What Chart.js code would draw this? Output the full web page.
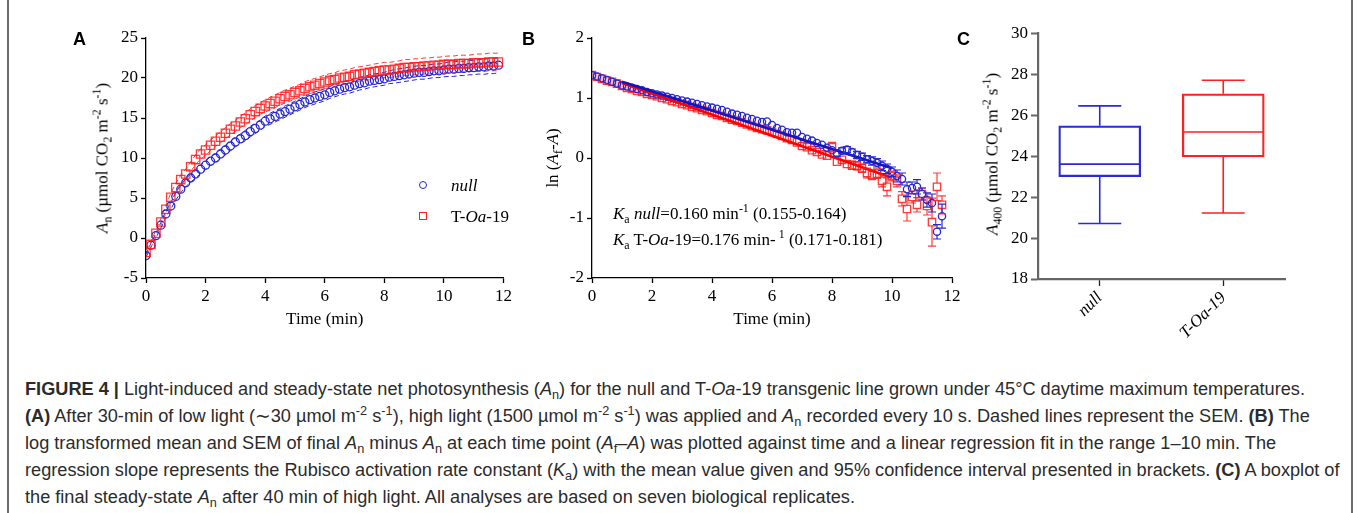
<!DOCTYPE html>
<html>
<head>
<meta charset="utf-8">
<script src="https://cdn.jsdelivr.net/npm/chart.js@4.4.0/dist/chart.umd.min.js"></script>
<style>
  body { margin: 0; width: 1357px; height: 513px; background: #fff; position: relative; overflow: hidden; }
  canvas { position: absolute; }
  .txt { position: absolute; font-family: 'Liberation Serif', 'Times New Roman', serif; font-size: 17px; line-height: 17px; color: #000; white-space: nowrap; }
  .ytit { transform: translate(-50%, -50%) rotate(-90deg); }
  .sub { font-size: 0.7em; position: relative; top: 0.3em; }
  .sup { font-size: 0.7em; position: relative; top: -0.55em; }
  .letra { position: absolute; font-family: 'Liberation Sans', Arial, sans-serif; font-weight: bold; font-size: 18px; line-height: 18px; }
  .moldura { position: absolute; top: 0; width: 1.5px; height: 513px; background: #6b6b6b; }
  #legenda div { position: absolute; box-sizing: border-box; }
  #caption { position: absolute; left: 25px; top: 377px; font-family: 'Liberation Sans', Arial, sans-serif; font-size: 17.5px; line-height: 25px; color: #2b2b2b; transform-origin: 0 0; }
  #caption div { white-space: nowrap; }
  #caption span.l { display: inline-block; }
</style>
</head>
<body>
<div class="moldura" style="left:7px"></div>
<div class="moldura" style="left:1351px"></div>

<canvas id="graficoA" width="455" height="320" style="left:60px;top:20px"></canvas>
<canvas id="graficoB" width="455" height="320" style="left:515px;top:20px"></canvas>
<canvas id="graficoC" width="380" height="330" style="left:970px;top:20px"></canvas>

<div class="letra" style="left:73px;top:30px">A</div>
<div class="letra" style="left:522px;top:30px">B</div>
<div class="letra" style="left:957px;top:30px">C</div>

<div class="txt ytit" style="left:103px;top:158px"><i>A</i><span class="sub">n</span> (µmol CO<span class="sub">2</span> m<span class="sup">-2</span> s<span class="sup">-1</span>)</div>
<div class="txt ytit" style="left:553px;top:158px">ln (<i>A</i><span class="sub">f</span>-<i>A</i>)</div>
<div class="txt ytit" style="left:993px;top:154px"><i>A</i><span class="sub">400</span> (µmol CO<span class="sub">2</span> m<span class="sup">-2</span> s<span class="sup">-1</span>)</div>

<div id="legenda">
  <div style="left:419px;top:181px;width:8px;height:8px;border:1.3px solid #2727d2;border-radius:50%"></div>
  <div style="left:419px;top:212px;width:8px;height:8px;border:1.3px solid #ff1f1f"></div>
</div>
<div class="txt" style="left:451px;top:176.5px"><i>null</i></div>
<div class="txt" style="left:451px;top:207.5px">T-<i>Oa</i>-19</div>

<div class="txt" style="left:613px;top:205px"><i>K</i><span class="sub">a</span> <i>null</i>=0.160 min<span class="sup">-1</span> (0.155-0.164)</div>
<div class="txt" style="left:613px;top:231px"><i>K</i><span class="sub">a</span> T-<i>Oa</i>-19=0.176 min-<span class="sup"> 1</span> (0.171-0.181)</div>

<div id="caption">
  <div><span class="l" id="linha1"><b>FIGURE 4 |</b> Light-induced and steady-state net photosynthesis (<i>A</i><span class="sub">n</span>) for the null and T-<i>Oa</i>-19 transgenic line grown under 45°C daytime maximum temperatures.</span></div>
  <div><span class="l"><b>(A)</b> After 30-min of low light (∼30 µmol m<span class="sup">-2</span> s<span class="sup">-1</span>), high light (1500 µmol m<span class="sup">-2</span> s<span class="sup">-1</span>) was applied and <i>A</i><span class="sub">n</span> recorded every 10 s. Dashed lines represent the SEM. <b>(B)</b> The</span></div>
  <div><span class="l">log transformed mean and SEM of final <i>A</i><span class="sub">n</span> minus <i>A</i><span class="sub">n</span> at each time point (<i>A</i><span class="sub">f</span>–<i>A</i>) was plotted against time and a linear regression fit in the range 1–10 min. The</span></div>
  <div><span class="l">regression slope represents the Rubisco activation rate constant (<i>K</i><span class="sub">a</span>) with the mean value given and 95% confidence interval presented in brackets. <b>(C)</b> A boxplot of</span></div>
  <div><span class="l">the final steady-state <i>A</i><span class="sub">n</span> after 40 min of high light. All analyses are based on seven biological replicates.</span></div>
</div>

<script>
// painel A: An medido a cada 10 s depois da luz alta
const passoSeg = 10;
const anNull = [-2.2, -0.9, 0.3, 1.6, 3.0, 4.0, 5.2, 6.1, 6.9, 7.5, 8.0, 8.6,
  9.1, 9.6, 10.0, 10.5, 11.0, 11.5, 12.0, 12.4, 12.8, 13.3, 13.7, 14.1,
  14.6, 14.9, 15.2, 15.5, 15.8, 16.1, 16.4, 16.7, 17.0, 17.3, 17.5, 17.7,
  17.9, 18.2, 18.4, 18.6, 18.8, 18.9, 19.1, 19.3, 19.4, 19.6, 19.7, 19.8,
  19.9, 20.1, 20.2, 20.3, 20.4, 20.5, 20.6, 20.7, 20.7, 20.8, 20.9, 20.9,
  21.0, 21.1, 21.1, 21.2, 21.2, 21.3, 21.3, 21.4, 21.4, 21.5, 21.5, 21.6];
const anOa = [-1.8, -0.8, 0.6, 2.0, 3.6, 5.1, 6.3, 7.3, 8.0, 8.9, 9.8, 10.5,
  11.0, 11.6, 12.1, 12.6, 13.1, 13.6, 14.0, 14.5, 14.9, 15.4, 15.8, 16.2,
  16.5, 16.8, 17.1, 17.4, 17.7, 17.9, 18.2, 18.4, 18.7, 18.9, 19.1, 19.3,
  19.5, 19.7, 19.8, 20.0, 20.1, 20.2, 20.4, 20.5, 20.6, 20.7, 20.8, 20.9,
  21.0, 21.0, 21.1, 21.2, 21.3, 21.3, 21.4, 21.4, 21.5, 21.5, 21.6, 21.6,
  21.7, 21.7, 21.7, 21.8, 21.8, 21.8, 21.9, 21.9, 21.9, 22.0, 22.0, 22.0];
const semNull = [0.2, 0.25, 0.3, 0.35, 0.4, 0.4, 0.45, 0.45, 0.5, 0.5, 0.5, 0.55,
  0.55, 0.55, 0.55, 0.6, 0.6, 0.6, 0.6, 0.6, 0.65, 0.65, 0.65, 0.65,
  0.65, 0.7, 0.7, 0.7, 0.7, 0.7, 0.7, 0.7, 0.7, 0.75, 0.75, 0.75,
  0.75, 0.75, 0.75, 0.75, 0.8, 0.8, 0.8, 0.8, 0.8, 0.8, 0.8, 0.8,
  0.8, 0.8, 0.85, 0.85, 0.85, 0.85, 0.85, 0.85, 0.85, 0.85, 0.85, 0.85,
  0.85, 0.9, 0.9, 0.9, 0.9, 0.9, 0.9, 0.9, 0.95, 0.95, 0.95, 0.95];
const semOa = [0.3, 0.35, 0.4, 0.45, 0.5, 0.5, 0.55, 0.55, 0.6, 0.6, 0.6, 0.65,
  0.65, 0.65, 0.65, 0.7, 0.7, 0.7, 0.7, 0.7, 0.75, 0.75, 0.75, 0.75,
  0.75, 0.8, 0.8, 0.8, 0.8, 0.8, 0.8, 0.8, 0.85, 0.85, 0.85, 0.85,
  0.85, 0.85, 0.85, 0.9, 0.9, 0.9, 0.9, 0.9, 0.9, 0.9, 0.95, 0.95,
  0.95, 0.95, 0.95, 0.95, 1.0, 1.0, 1.0, 1.0, 1.0, 1.0, 1.0, 1.0,
  1.0, 1.05, 1.05, 1.05, 1.05, 1.05, 1.05, 1.1, 1.1, 1.1, 1.1, 1.1];

// painel B: ln(Af - A) com erro padrao
const lnNull = [1.38, 1.36, 1.33, 1.30, 1.27, 1.24, 1.21, 1.19, 1.17, 1.15, 1.13, 1.10,
  1.08, 1.06, 1.04, 1.02, 1.00, 0.98, 0.96, 0.94, 0.92, 0.90, 0.88, 0.86,
  0.84, 0.82, 0.80, 0.77, 0.74, 0.72, 0.70, 0.67, 0.65, 0.62, 0.60, 0.61,
  0.55, 0.50, 0.47, 0.43, 0.42, 0.42, 0.35, 0.32, 0.29, 0.25, 0.22, 0.17,
  0.13, 0.08, 0.12, 0.14, 0.10, 0.05, 0.02, -0.02, -0.05, -0.08, -0.13, -0.18,
  -0.23, -0.30, -0.35, -0.52, -0.50, -0.48, -0.60, -0.70, -0.75, -1.23, -0.97];
const lnOa = [1.38, 1.35, 1.32, 1.29, 1.27, 1.24, 1.20, 1.17, 1.15, 1.12, 1.10, 1.07,
  1.05, 1.03, 1.00, 0.98, 0.95, 0.93, 0.90, 0.88, 0.85, 0.83, 0.80, 0.78,
  0.75, 0.72, 0.70, 0.67, 0.64, 0.62, 0.59, 0.56, 0.53, 0.50, 0.48, 0.46,
  0.43, 0.40, 0.37, 0.33, 0.30, 0.26, 0.20, 0.18, 0.13, 0.10, 0.06, 0.04,
  0.18, -0.06, -0.03, -0.10, -0.12, -0.13, -0.17, -0.25, -0.28, -0.26, -0.38, -0.48,
  -0.30, -0.38, -0.68, -0.85, -0.65, -0.78, -0.60, -0.80, -1.07, -0.48, -0.78];
const errNull = [0.02, 0.02, 0.02, 0.02, 0.02, 0.02, 0.02, 0.02, 0.02, 0.02, 0.02, 0.02,
  0.02, 0.02, 0.02, 0.02, 0.02, 0.02, 0.02, 0.02, 0.02, 0.02, 0.02, 0.02,
  0.02, 0.02, 0.02, 0.02, 0.02, 0.02, 0.03, 0.03, 0.03, 0.03, 0.03, 0.03,
  0.03, 0.03, 0.03, 0.03, 0.03, 0.03, 0.03, 0.03, 0.03, 0.03, 0.03, 0.03,
  0.04, 0.05, 0.05, 0.05, 0.05, 0.06, 0.06, 0.06, 0.07, 0.07, 0.08, 0.08,
  0.08, 0.10, 0.10, 0.12, 0.10, 0.12, 0.10, 0.12, 0.15, 0.12, 0.20];
const errOa = [0.02, 0.02, 0.02, 0.02, 0.02, 0.02, 0.02, 0.02, 0.02, 0.02, 0.02, 0.02,
  0.02, 0.02, 0.02, 0.02, 0.02, 0.02, 0.02, 0.02, 0.02, 0.02, 0.02, 0.02,
  0.03, 0.03, 0.03, 0.03, 0.03, 0.03, 0.03, 0.03, 0.03, 0.03, 0.03, 0.03,
  0.03, 0.03, 0.03, 0.03, 0.03, 0.03, 0.04, 0.04, 0.05, 0.05, 0.05, 0.05,
  0.08, 0.06, 0.06, 0.06, 0.07, 0.07, 0.07, 0.08, 0.08, 0.08, 0.10, 0.15,
  0.08, 0.10, 0.12, 0.20, 0.10, 0.12, 0.10, 0.15, 0.40, 0.23, 0.15];
// regressao linear entre 1 e 10 min
const fitTempo = [1, 10];
const fitNull = [1.27, -0.17];
const fitOa = [1.25, -0.33];

// painel C: boxplot de A400
const grupos = ['null', 'T-Oa-19'];
const boxMin = [20.71, 21.22];
const boxQ1 = [23.00, 23.96];
const boxMed = [23.61, 25.18];
const boxQ3 = [25.48, 27.04];
const boxMax = [26.45, 27.70];

const azul = '#2727d2';
const vermelho = 'rgba(255, 25, 25, 0.85)';
const coresC = ['#2a2ad6', '#ff2020'];

Chart.defaults.font.family = "'Liberation Serif', 'Times New Roman', serif";
Chart.defaults.font.size = 17;
Chart.defaults.color = '#000';

// tempo em minutos de cada leitura
function pontos(valores) {
  return valores.map((v, i) => ({ x: i * passoSeg / 60, y: v }));
}

function eixo(min, max, passo, tamanho, extra) {
  return Object.assign({
    type: 'linear', min: min, max: max,
    ticks: { stepSize: passo, padding: 3, color: '#000', font: { size: 17 } },
    grid: { drawOnChartArea: false, color: '#000', tickLength: 5, tickWidth: 1.3 },
    border: { color: '#000', width: 1.3 },
    afterFit: tamanho
  }, extra || {});
}

const tituloTempo = { display: true, text: 'Time (min)', font: { size: 17 }, padding: { top: 0, bottom: 10 } };
const semLegenda = { legend: { display: false }, tooltip: { enabled: false } };

// grafico A
new Chart(document.getElementById('graficoA'), {
  type: 'scatter',
  data: {
    datasets: [
      { data: pontos(anOa), pointStyle: 'rect', pointRadius: 5.9, borderColor: vermelho, backgroundColor: 'rgba(0,0,0,0)', borderWidth: 1.3, order: 1 },
      { data: pontos(anNull), pointStyle: 'circle', pointRadius: 4, borderColor: azul, backgroundColor: 'rgba(0,0,0,0)', borderWidth: 1.3, order: 2 },
      { data: pontos(anOa.map((v, i) => v + semOa[i])), showLine: true, pointRadius: 0, borderColor: vermelho, borderWidth: 1, borderDash: [5, 3], order: 3 },
      { data: pontos(anOa.map((v, i) => v - semOa[i])), showLine: true, pointRadius: 0, borderColor: vermelho, borderWidth: 1, borderDash: [5, 3], order: 3 },
      { data: pontos(anNull.map((v, i) => v + semNull[i])), showLine: true, pointRadius: 0, borderColor: azul, borderWidth: 1, borderDash: [5, 3], order: 4 },
      { data: pontos(anNull.map((v, i) => v - semNull[i])), showLine: true, pointRadius: 0, borderColor: azul, borderWidth: 1, borderDash: [5, 3], order: 4 }
    ]
  },
  options: {
    responsive: false,
    animation: false,
    events: [],
    layout: { padding: { top: 18, right: 9, left: 0, bottom: 0 } },
    plugins: semLegenda,
    scales: {
      x: eixo(0, 12, 2, s => { s.height = 62; }, { title: tituloTempo }),
      y: eixo(-5, 25, 5, s => { s.width = 86; })
    }
  }
});

// barras de erro do grafico B, so fora do simbolo
const barrasErro = {
  id: 'barrasErro',
  afterDatasetsDraw(chart) {
    const ctx = chart.ctx;
    const y = chart.scales.y;
    chart.data.datasets.forEach((ds, d) => {
      if (!ds.erros) return;
      chart.getDatasetMeta(d).data.forEach((p, i) => {
        const e = ds.erros[i];
        const topo = y.getPixelForValue(ds.data[i].y + e);
        const base = y.getPixelForValue(ds.data[i].y - e);
        const r = ds.pointRadius * 0.75;
        if (p.y - topo <= r) return;
        ctx.save();
        ctx.strokeStyle = ds.borderColor;
        ctx.lineWidth = 1.2;
        ctx.beginPath();
        ctx.moveTo(p.x, p.y - r); ctx.lineTo(p.x, topo);
        ctx.moveTo(p.x, p.y + r); ctx.lineTo(p.x, base);
        ctx.moveTo(p.x - 4, topo); ctx.lineTo(p.x + 4, topo);
        ctx.moveTo(p.x - 4, base); ctx.lineTo(p.x + 4, base);
        ctx.stroke();
        ctx.restore();
      });
    });
  }
};

// grafico B
new Chart(document.getElementById('graficoB'), {
  type: 'scatter',
  data: {
    datasets: [
      { data: pontos(lnOa), erros: errOa, pointStyle: 'rect', pointRadius: 5.2, borderColor: vermelho, backgroundColor: 'rgba(0,0,0,0)', borderWidth: 1.3, order: 2 },
      { data: pontos(lnNull), erros: errNull, pointStyle: 'circle', pointRadius: 3.6, borderColor: azul, backgroundColor: 'rgba(0,0,0,0)', borderWidth: 1.3, order: 1 },
      { data: fitTempo.map((t, i) => ({ x: t, y: fitNull[i] })), showLine: true, pointRadius: 0, borderColor: '#1515c0', borderWidth: 2.5, order: 0 },
      { data: fitTempo.map((t, i) => ({ x: t, y: fitOa[i] })), showLine: true, pointRadius: 0, borderColor: '#ff0000', borderWidth: 2.5, order: 0 }
    ]
  },
  plugins: [barrasErro],
  options: {
    responsive: false,
    animation: false,
    events: [],
    layout: { padding: { top: 18, right: 18, left: 0, bottom: 0 } },
    plugins: semLegenda,
    scales: {
      x: eixo(0, 12, 2, s => { s.height = 62; }, { title: tituloTempo }),
      y: eixo(-2, 2, 1, s => { s.width = 77; })
    }
  }
});

// bigodes e mediana do boxplot
const bigodes = {
  id: 'bigodes',
  afterDatasetsDraw(chart) {
    const ctx = chart.ctx;
    const y = chart.scales.y;
    chart.getDatasetMeta(0).data.forEach((barra, i) => {
      const x = barra.x;
      const meia = barra.width / 2 - 0.75;
      ctx.save();
      ctx.strokeStyle = coresC[i];
      ctx.lineWidth = 1.6;
      ctx.beginPath();
      ctx.moveTo(x - meia, y.getPixelForValue(boxMed[i]));
      ctx.lineTo(x + meia, y.getPixelForValue(boxMed[i]));
      ctx.moveTo(x, y.getPixelForValue(boxQ3[i]));
      ctx.lineTo(x, y.getPixelForValue(boxMax[i]));
      ctx.moveTo(x, y.getPixelForValue(boxQ1[i]));
      ctx.lineTo(x, y.getPixelForValue(boxMin[i]));
      ctx.moveTo(x - 21.5, y.getPixelForValue(boxMax[i]));
      ctx.lineTo(x + 21.5, y.getPixelForValue(boxMax[i]));
      ctx.moveTo(x - 21.5, y.getPixelForValue(boxMin[i]));
      ctx.lineTo(x + 21.5, y.getPixelForValue(boxMin[i]));
      ctx.stroke();
      ctx.restore();
    });
  }
};

// grafico C
new Chart(document.getElementById('graficoC'), {
  type: 'bar',
  data: {
    labels: grupos,
    datasets: [{
      data: boxQ1.map((q, i) => [q, boxQ3[i]]),
      backgroundColor: 'rgba(0,0,0,0)',
      borderColor: coresC,
      borderWidth: 1.6,
      borderSkipped: false,
      barThickness: 82
    }]
  },
  plugins: [bigodes],
  options: {
    responsive: false,
    animation: false,
    events: [],
    layout: { padding: { top: 13, right: 65, left: 0, bottom: 0 } },
    plugins: semLegenda,
    scales: {
      x: {
        ticks: { maxRotation: 45, minRotation: 45, padding: 2, font: { style: 'italic', size: 17 } },
        grid: { drawOnChartArea: false, offset: false, color: '#222', tickLength: 7, tickWidth: 1.3 },
        border: { color: '#666', width: 2.2 },
        afterFit: s => { s.height = 71; }
      },
      y: {
        min: 18, max: 30,
        ticks: { stepSize: 2, padding: 3, font: { size: 17 } },
        grid: { drawOnChartArea: false, color: '#666', tickLength: 7, tickWidth: 2 },
        border: { color: '#666', width: 2.2 },
        afterFit: s => { s.width = 68; }
      }
    }
  }
});

// ajusta a largura da legenda da figura
const cap = document.getElementById('caption');
const larg = document.getElementById('linha1').getBoundingClientRect().width;
cap.style.transform = 'scaleX(' + (1280 / larg) + ')';
</script>
</body>
</html>
